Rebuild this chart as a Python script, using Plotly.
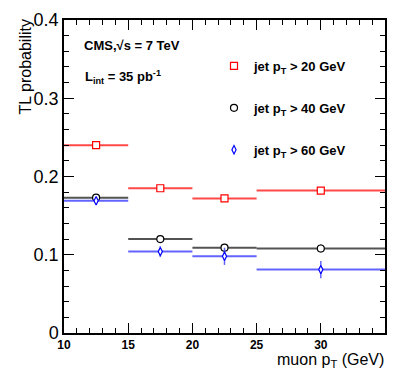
import plotly.graph_objects as go

# bins in muon pT (GeV)
bin_centers = [12.5, 17.5, 22.5, 30.0]
bin_halfwidths = [2.5, 2.5, 2.5, 5.0]

# TL probability per jet pT threshold
tl_jet20 = [0.240, 0.185, 0.172, 0.182]
err_jet20 = [0.003, 0.003, 0.003, 0.003]
tl_jet40 = [0.173, 0.120, 0.109, 0.108]
err_jet40 = [0.003, 0.003, 0.004, 0.005]
tl_jet60 = [0.169, 0.104, 0.098, 0.081]
err_jet60 = [0.004, 0.007, 0.011, 0.011]

series = [
    ("<b>jet p<sub>T</sub> &gt; 20 GeV</b>", tl_jet20, err_jet20, "#ff0000", "rgba(255,40,40,0.85)", "square", 7),
    ("<b>jet p<sub>T</sub> &gt; 40 GeV</b>", tl_jet40, err_jet40, "#000000", "rgba(40,40,40,0.8)", "circle", 7),
    ("<b>jet p<sub>T</sub> &gt; 60 GeV</b>", tl_jet60, err_jet60, "#0000ff", "rgba(60,60,255,0.8)", "diamond-tall", 6),
]

fig = go.Figure()
for i, (name, y, ey, col, lcol, sym, sz) in enumerate(series):
    fig.add_scatter(
        x=bin_centers, y=y, name=name, mode="markers", legendgroup=str(i),
        marker=dict(symbol=sym, size=sz, color="white", line=dict(color=col, width=1.2)),
        error_x=dict(type="data", array=bin_halfwidths, width=0, thickness=2, color=lcol),
        error_y=dict(type="data", array=ey, width=0, thickness=1.5, color=lcol),
    )

font = "Liberation Sans, Arial, sans-serif"
# page body has an 8px margin, so work in page pixels and shift by OFF
OFF = 8
W, H = 383, 367
plot_x0, plot_x1 = 64, 385   # page px of plot area
plot_y0, plot_y1 = 20, 333
L = plot_x0 - OFF
R = W - (plot_x1 - OFF)
T = plot_y0 - OFF
B = H - (plot_y1 - OFF)

fig.update_layout(
    width=W, height=H, margin=dict(l=L, r=R, t=T, b=B, autoexpand=False),
    plot_bgcolor="white", paper_bgcolor="white",
    font=dict(family=font, color="black"),
    showlegend=True,
)
fig.update_xaxes(
    range=[10, 35], dtick=5, tick0=10, showgrid=False, zeroline=False,
    showline=True, linecolor="black", linewidth=1.5, mirror="ticks",
    ticks="inside", ticklen=10, tickwidth=1, tickcolor="black",
    tickfont=dict(size=12, family=font, color="black"), tickprefix="<b>", ticksuffix="</b>",
    minor=dict(dtick=1, ticks="inside", ticklen=5, tickcolor="black", showgrid=False),
)
fig.update_yaxes(
    range=[0, 0.4], dtick=0.1, showgrid=False, zeroline=False,
    showline=True, linecolor="black", linewidth=1.5, mirror="ticks",
    ticks="inside", ticklen=10, tickwidth=1, tickcolor="black",
    tickfont=dict(size=18, family=font, color="black"),
    minor=dict(dtick=0.02, ticks="inside", ticklen=5, tickcolor="black", showgrid=False),
)

pw = plot_x1 - plot_x0
ph = plot_y1 - plot_y0


def px(x):
    return (x - plot_x0) / pw


def py(y):
    return (plot_y1 - y) / ph


fig.update_layout(legend=dict(x=px(214), y=py(51), xanchor="left", yanchor="top",
                              bgcolor="rgba(0,0,0,0)", tracegroupgap=22,
                              font=dict(size=13, family=font, color="black")))

fig.add_annotation(text="TL probability", xref="paper", yref="paper",
                   x=px(25), y=py(18), xanchor="center", yanchor="top",
                   textangle=-90, showarrow=False, font=dict(size=16, family=font))
fig.add_annotation(text="muon p<sub>T</sub> (GeV)", xref="paper", yref="paper",
                   x=px(386), y=py(349), xanchor="right", yanchor="top",
                   showarrow=False, font=dict(size=16, family=font))
fig.add_annotation(text="<b>CMS,\u221As = 7 TeV</b>", xref="paper", yref="paper",
                   x=px(82), y=py(45), xanchor="left", yanchor="middle",
                   showarrow=False, font=dict(size=13, family=font))
fig.add_annotation(text="<b>L<sub>int</sub> = 35 pb<sup>-1</sup></b>", xref="paper", yref="paper",
                   x=px(83), y=py(77), xanchor="left", yanchor="middle",
                   showarrow=False, font=dict(size=13, family=font))

fig.write_html("out.html")
